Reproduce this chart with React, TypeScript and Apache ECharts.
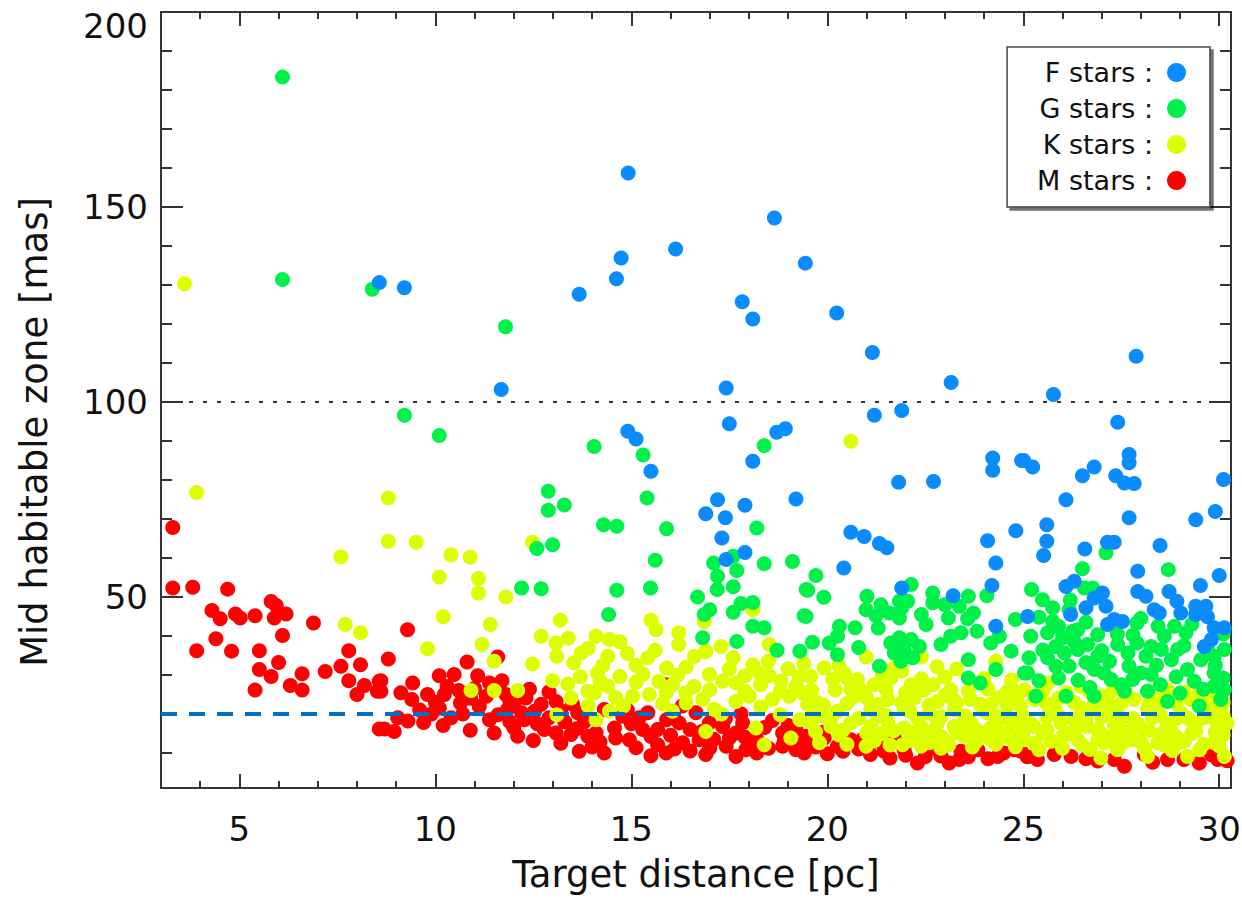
import React, { useEffect, useRef } from "react";
import * as echarts from "echarts";

// ---- axes ----
const xRange = [3, 30.3];
const yRange = [1, 200];
const xMajorTicks = [5, 10, 15, 20, 25, 30];
const xMinorTicks = [4, 6, 7, 8, 9, 11, 12, 13, 14, 16, 17, 18, 19, 21, 22, 23, 24, 26, 27, 28, 29];
const yMajorTicks = [50, 100, 150, 200];
const yMinorTicks = [10, 20, 30, 40, 60, 70, 80, 90, 110, 120, 130, 140, 160, 170, 180, 190];
const xTitle = "Target distance [pc]";
const yTitle = "Mid habitable zone [mas]";

// ---- reference lines ----
const dottedLineY = 100;
const dashedLineY = 20;
const dashedLineX = [3, 29.8];

// ---- legend ----
const seriesNames = ["F stars", "G stars", "K stars", "M stars"];
const seriesColors = ["#0A8CFF", "#00F24A", "#DCFF00", "#FF0000"];

// ---- data: [distance pc, mid habitable zone mas] ----
const fStars = [
  [8.57,130.6],[9.21,129.3],[13.67,127.6],[11.68,103.2],
  [14.92,158.7],[14.74,136.9],[14.62,131.6],[16.13,139.2],[18.65,147.2],[19.44,135.6],[17.83,125.7],[18.1,121.3],[20.24,122.8],[21.15,112.7],[17.42,103.6],[23.16,105],[25.77,101.9],[27.88,111.7],
  [17.5,94.4],[14.91,92.5],[15.12,90.5],[15.5,82.2],[18.71,92.2],[18.93,93.1],[18.1,84.8],[19.2,75.1],[17.2,74.9],[16.9,71.3],[17.4,70.3],[17.9,73.5],[17.31,65.1],[17.9,61.4],[17.42,59.6],
  [21.2,96.6],[21.9,97.8],[24.22,85.6],[24.22,82.5],[24.96,85],[21.82,79.4],[22.71,79.6],[20.6,66.6],[20.94,65.5],[21.33,63.7],[21.52,62.6],[20.42,57.4],[24.09,64.4],[24.3,58.7],[24.81,67],[24.2,52.9],[21.9,52.3],[23.21,50.3],[24.3,42.5],
  [27.41,94.8],[25.01,85],[25.24,83.3],[26.51,81.1],[26.81,83.3],[27.36,81.1],[27.7,86.5],[27.7,84.4],[27.58,79.2],[27.83,79.1],[30.11,80.1],[26.09,74.9],[27.7,70.3],[29.4,69.8],[29.9,71.9],[25.6,68.5],[25.6,64.3],[25.52,60.6],[26.57,62.3],[27.15,64],[27.32,64],[28.49,63.2],[27.92,56.6],[30.0,55.5],[26.09,52.7],[26.3,54],[25.11,45],[26.21,45.5],[26.6,47.2],[26.81,49.7],[27.02,51],[27.11,47.6],[27.15,42.9],[27.32,44.2],[27.53,43.7],[27.92,51.4],[28.13,50.2],[28.34,46.7],[28.47,45.9],[28.72,51.4],[28.92,48.9],[29.02,45.9],[29.52,52.9],[29.4,47.6],[29.66,47.6],[29.4,45.5],[29.7,44.9],[29.87,42.1],[30.13,42.1],[29.62,37.3],[29.8,39.1]
];

const gStars = [
  [6.1,183.3],[6.1,131.4],[8.39,128.9],[11.79,119.3],
  [9.21,96.6],[10.1,91.4],[14.05,88.6],[12.88,77.1],[12.88,72.2],[13.29,73.6],[12.59,62.4],[12.99,63.4],[12.2,52.3],[12.7,52.1],
  [15.3,86.4],[18.39,88.8],[15.4,75.4],[14.29,68.5],[14.63,68.1],[15.9,67.5],[18.2,67.7],[15.61,59.4],[18.39,58.5],[19.11,59.1],[17.1,58.7],[17.6,60.4],[17.69,56.8],[17.2,55.3],[14.63,51.7],[15.49,52.3],[17.19,51.9],[17.6,52.6],[16.69,50],[19.46,51.9],[14.42,45.5],[16.86,45.5],[17.0,46.7],[17.6,46.1],[17.8,48.3],[18.1,48.6],[19.41,45.2],[18.1,42.5],[18.39,42.1],[16.82,39.5],[17.69,38.6],[18.72,36.3],[19.3,36.1],
  [19.71,55.5],[19.5,51.7],[19.91,49.9],[19.46,45],[22.14,53.2],[21.01,50.2],[21.37,48],[20.99,46.7],[21.24,45.2],[21.58,45.9],[21.84,44.6],[21.84,48.9],[22.05,48.9],[21.9,47.2],[22.69,51],[22.69,48.5],[22.52,42.9],[23.6,50.2],[23.37,47.6],[23.73,45.9],[23.58,44.4],[23.09,44.6],[24.07,50.3],[20.31,42.5],[20.71,42.1],[20.26,39.9],[20.05,38.2],[19.62,38.4],[20.26,35.2],[21.62,38.2],[21.84,39.5],[22.14,39.1],[22.35,37.3],[21.71,35.6],[21.96,36.5],[21.88,33.5],[22.18,34.4],[21.33,32.2],[23.15,39.9],[23.41,40.8],[23.82,41.2],[24.17,38.2],[24.39,39.9],[24.69,36.1],[23.6,33.9],[24.3,31.4],[23.6,29.2],[23.9,27.9],[25.03,30.5],
  [26.51,57.2],[28.7,57],[27.11,61.3],[25.21,51.9],[25.49,49.3],[25.75,47.2],[26.17,46.7],[26.56,52.3],[26.77,52.3],[25.75,43.7],[25.19,39.9],[25.62,40.8],[25.83,37.3],[25.15,34.4],[25.11,30.5],[25.62,34.4],[25.83,32.2],[25.32,24.5],[26.0,39.5],[26.05,35.6],[26.26,41.2],[26.17,32.2],[26.09,24.5],[26.39,41.6],[26.9,40.3],[26.9,34.8],[26.81,31.4],[27.06,30.5],[26.81,24.5],[27.24,28.8],[27.41,37.8],[27.67,35.6],[27.9,38.2],[27.9,43.3],[27.7,32.2],[27.79,28.8],[27.58,25.8],[28.13,34.8],[28.26,37.3],[28.26,30.1],[28.44,42.5],[28.17,25.8],[28.52,36.5],[28.78,33.9],[28.86,42.5],[29.15,40.8],[28.94,36.5],[28.68,23.2],[29.19,31.4],[29.36,28.4],[29.53,33.9],[29.49,22],[29.87,34.8],[30.13,36.5],[29.87,30.5],[30.13,26.2],[29.87,27.1],[30.04,23.7],[26.64,37.8],[26.39,36.5],
  [25.4,44.8],[25.5,36.4],[25.4,28.5],[25.9,42.4],[25.9,29.2],[26.3,38.5],[26.4,28.6],[26.6,43.5],[26.6,33.2],[26.7,26.8],[27.0,36.2],[27.2,33.5],[27.4,40.5],[27.5,27.5],[27.8,40.2],[28.0,30.5],[28.4,32.5],[28.5,27.5],[28.6,40.0],[28.9,29.5],[29.1,37.5],[29.3,43.0],[29.6,26.3],[29.7,36.5],[29.9,32.5],[30.1,29.2],[30.1,40.5],[28.0,44.5],[26.2,49.2],[29.0,25.3],
  [22.4,45.5],[21.3,42.0],[22.9,37.8],[24.8,44.2],[23.0,48.0],[20.8,37.0]
];

const kStars = [
  [3.6,130.3],[3.91,76.8],[7.59,60.3],[7.7,42.9],[8.09,40.8],[20.6,89.9],
  [8.8,75.4],[8.8,64.3],[9.51,64],[12.48,64],[10.4,60.8],[10.89,60.2],[10.1,55.1],[11.1,54.7],[11.1,51],[11.8,50],[10.2,44.9],[11.4,42.9],[13.19,44],[12.7,39.9],[13.08,38.2],[13.39,39.4],[9.8,36.7],[11.19,37.8],[11.5,33.5],[12.48,32.8],[13.1,34.8],[13.53,33.1],[13.72,35.6],[12.99,28.5],[13.38,27.7],[10.91,26],[11.5,26],[12.1,26],[13.46,24.1],[13.1,19.8],[13.89,25.8],
  [15.5,44],[15.63,41.6],[16.21,40.8],[16.21,37.8],[14.1,39.9],[14.44,39.1],[14.71,38.5],[15.61,36.3],[15.42,34.4],[15.12,32.5],[14.4,34.8],[14.27,32.4],[14.14,30.5],[14.71,29.6],[15.12,28.1],[14.4,27.1],[14.06,25.4],[16.18,29.9],[16.05,27.5],[16.61,34.8],[17.29,37.3],[17.6,34.4],[16.99,30.1],[17.33,28.4],[17.67,27.9],[18.1,32.6],[18.27,30.5],[18.52,29.8],[18.82,28.4],[19.29,29.6],[18.52,37.8],[18.1,46.7],[16.86,43.7],[16.39,25.4],[16.82,23.7],[15.03,24.5],[15.46,25],[15.89,25.4],[17.67,23.2],[18.01,24.5],[18.6,23.7],[19.03,24.5],[19.37,25.4],[18.18,16.4],[16.9,15.5],[18.39,12.1],[19.07,13.8],[14.1,18.5],[14.44,20.7],[16.05,20.7],[17.12,21.1],
  [13.7,29.5],[13.9,22.0],[14.6,24.2],[14.9,35.5],[15.3,30.2],[15.7,28.3],[15.9,31.8],[15.8,22.6],[16.4,32.0],[16.6,27.0],[16.9,36.0],[17.0,26.2],[17.5,31.5],[17.9,25.8],[17.9,29.8],[18.3,27.5],[18.5,33.5],[18.8,25.9],[19.0,31.6],[19.2,27.2],[19.4,33.0],[19.5,22.5],[13.9,36.8],[14.2,28.4],[16.4,22.8],[18.3,21.8],[17.3,20.0],[18.8,19.8],[19.3,18.5],[14.8,22.0],
  [20.99,34.6],[22.4,34.6],[24.3,33.5],[19.58,29.6],[19.92,31.8],[20.14,28.8],[20.43,30.5],[20.77,28.8],[21.2,27.5],[21.62,29.2],[22.14,27.5],[22.47,26.2],[23.15,26.2],[24.52,24.5],[19.75,22.8],[20.69,24.5],[21.54,23.7],[22.22,24.1],[22.81,23.2],[23.66,23.7],[24.17,22.4],[24.85,23.2],[19.58,17.7],[20.09,16.8],[20.6,17.7],[21.11,16.8],[21.54,18.1],[21.96,16.4],[22.39,16.8],[22.81,17.7],[23.24,16.8],[23.66,17.7],[24.17,16.4],[24.69,17.7],[22.39,13.8],[22.98,13.4],[23.49,14.3],[24.17,13.4],[24.69,14.3],[20.99,11.7],[21.92,12.1],[22.39,11.7],[19.67,21.1],[20.26,20.7],[21.11,21.1],[21.96,21.5],[23.24,21.1],[24.09,20.3],
  [25.03,26.2],[25.62,27.9],[26.47,27.1],[27.15,23.7],[27.83,23.7],[28.68,26.2],[29.28,23.7],[24.94,22],[25.79,21.1],[26.47,21.5],[27.32,20.7],[28.17,21.1],[29.02,20.3],[29.96,21.1],[25.28,16.8],[25.96,17.7],[26.64,16.8],[27.32,17.3],[28.0,16.4],[28.68,17.3],[29.36,16.8],[30.04,16.8],[25.03,13.4],[25.71,13],[26.39,13.4],[27.07,12.6],[27.75,13.4],[28.43,12.6],[29.11,13],[29.87,12.6],[26.98,8.7],[28.17,9.1],[29.19,9.1],[30.13,9.1],
  [22.6,20.2],[23.0,24.8],[23.5,19.5],[23.9,15.3],[24.4,19.0],[24.6,25.8],[25.0,19.4],[25.3,23.6],[25.5,15.2],[25.9,19.6],[26.1,25.4],[26.2,15.0],[26.6,19.2],[26.9,22.1],[27.0,14.8],[27.5,19.0],[27.6,26.0],[27.7,15.0],[28.3,19.0],[28.4,23.5],[28.5,14.8],[28.9,18.8],[29.1,25.6],[29.3,15.0],[29.6,19.0],[29.7,24.5],[30.1,14.6],[30.1,19.5],[22.9,11.2],[23.7,11.5],[24.8,11.6],[25.4,10.8],[26.0,11.2],[26.7,10.9],[27.4,10.8],[28.1,11.0],[28.8,10.6],[29.5,10.8],[21.4,14.9],[20.3,14.6],[19.9,19.4],[21.3,19.4],[22.0,25.5],[20.6,26.4],[19.6,26.0],
  [19.8,12.6],[20.5,12.2],[21.2,13.1],[21.6,12.0],[22.1,13.2],[22.6,12.6],[23.1,12.0],[23.8,12.9],[24.3,12.2],[24.9,13.1],[25.3,12.4],[25.9,12.9],[26.5,12.1],[26.9,13.3],[27.5,12.2],[28.0,12.8],[28.6,12.0],[29.0,12.7],[29.6,12.2],[30.0,11.8],
  [19.7,15.4],[20.4,15.8],[21.0,15.1],[21.7,15.7],[22.2,15.2],[22.7,15.6],[23.3,15.1],[23.8,16.0],[24.4,15.3],[25.0,15.7],[25.6,15.9],[26.3,15.6],[26.9,16.0],[27.6,15.5],[28.2,15.8],[28.8,15.2],[29.4,15.6],[29.9,15.3],
  [20.1,19.0],[20.8,18.8],[21.5,19.6],[22.3,18.9],[22.9,19.3],[23.6,18.7],[24.3,19.4],[24.9,18.9],[25.6,19.2],[26.3,18.6],[27.0,19.3],[27.8,18.8],[28.5,19.5],[29.2,18.9],[29.9,18.5],
  [19.9,22.3],[20.5,22.7],[21.3,22.4],[21.9,22.9],[22.6,22.3],[23.3,22.8],[23.9,22.5],[24.6,22.0],[25.6,22.6],[26.3,22.9],[26.8,22.4],[27.5,22.7],[28.2,22.3],[28.9,22.8],[29.6,22.4],[30.1,22.9],
  [20.2,26.1],[20.9,25.8],[21.5,26.2],[22.3,25.6],[23.6,25.9],[24.1,26.3],[24.8,25.7],[25.5,25.8],[26.7,25.6],[27.3,26.3],[28.2,25.9],[29.5,25.8],[30.0,25.2],
  [20.5,29.2],[21.4,29.6],[22.4,29.0],[23.0,29.4],[24.0,29.1],[24.7,28.7],[20.3,32.3],[21.7,31.8],[22.8,32.1],[23.3,31.5],
  [22.9,14.2],[23.5,17.2],[24.0,20.8],[24.6,14.0],[25.2,17.4],[25.8,21.0],[26.0,14.2],[26.6,17.4],[27.2,21.0],[27.3,14.2],[27.9,17.6],[28.4,20.8],[28.9,14.2],[29.4,17.4],[29.8,20.8],[30.2,17.6],[23.2,23.8],[24.4,24.2],[25.9,24.0],[27.0,24.6],[28.6,24.0],[29.8,24.2],[22.1,20.7],[21.0,24.2],[22.7,27.5],[21.9,31.0]
];

const mStars = [
  [3.3,67.8],[3.3,52.3],[3.81,52.5],[4.7,52],[4.3,46.5],[4.51,44.4],[4.9,45.6],[5.02,44.6],[5.4,45.2],[5.81,48.8],[5.94,47.8],[5.89,44.6],[6.19,45.6],[6.1,40.1],[6.89,43.3],[3.91,36.2],[4.4,39.3],[4.8,36.1],[5.51,36.2],[5.51,31.4],[5.81,29.6],[6.0,33.2],[5.4,26.1],[6.3,27.3],[6.6,30.3],[6.6,26.1],[7.19,30.9],[7.59,32.2],[7.79,36.2],[7.79,28.5],[8.09,32.6],[8.0,25],[8.19,27.3],[8.57,28.4],[8.52,25.8],[8.57,16.1],
  [9.29,41.6],[8.8,34.1],[10.81,33.3],[11.59,34.6],[8.61,28.5],[8.61,25.8],[9.12,25.4],[9.42,27.9],[9.4,23.7],[9.8,25],[10.1,29.8],[10.48,30.1],[10.23,25],[10.64,22.8],[11.08,29.8],[11.38,27.9],[11.12,21.9],[11.8,25],[12.31,24.1],[11.38,18.5],[11.5,15.1],[8.7,16.1],[8.95,15.5],[9.04,19],[9.7,17.8],[10.4,19],[10.89,15.8],[12.1,14.3],[12.27,18.5],[12.53,20.7],[12.78,16],[13.08,15.1],[13.08,23.2],[13.46,14.7],[13.67,10.4],[13.89,14.3],[13.63,20.3],[11.84,21.1],
  [12.0,22.5],[12.9,19.0],[11.6,19.8],[10.9,24.0],[12.6,17.5],[13.3,18.0],[10.1,21.5],[9.6,21.0],
  [14.31,21.1],[14.1,15.1],[14.31,10],[14.57,16.4],[14.95,13.4],[15.12,11.3],[15.42,20.3],[15.67,16],[15.67,12.1],[15.89,27.5],[16.22,17.7],[16.31,12.6],[16.65,20.3],[16.73,13.4],[17.33,16.8],[17.42,11.7],[17.67,9.1],[17.67,15.1],[17.92,10.8],[18.86,11.7],[19.2,10.8],[19.46,14.3],[14.78,19.4],[15.29,16],[16.99,17.7],[17.84,17.7],[18.86,15.1],[15.89,10],
  [16.0,14.5],[16.5,16.0],[17.1,13.5],[18.2,13.5],[18.4,16.5],[17.8,20.0],[15.0,17.5],[16.3,22.0],[18.0,12.0],[19.0,17.0],
  [10.0,23.0],[10.3,27.0],[10.6,26.0],[10.7,20.0],[11.0,26.5],[11.3,24.5],[11.7,28.5],[11.9,23.3],[12.2,20.3],[12.4,26.3],[12.7,22.5],[12.9,25.6],[13.2,20.8],[13.5,22.5],[13.8,18.0],[12.0,16.5],[12.5,13.2],[13.2,12.5],[11.9,18.0],[13.6,16.2],[14.2,12.8],[14.6,13.8],[14.9,21.0],[15.2,19.0],[15.5,14.2],[15.9,18.5],[16.1,11.0],[16.5,10.5],[16.8,15.5],[17.0,11.2],[17.4,18.8],[17.5,13.8],[17.9,14.0],[18.2,10.0],[18.5,11.2],[18.6,18.3],[18.9,13.0],[19.2,16.2],[19.3,12.2],[19.7,11.5],[20.0,9.8],[20.4,10.4],[20.8,11.0],[21.1,9.6],[21.6,8.7],[22.0,9.4],[22.5,9.0],[22.9,9.2],[23.6,9.0],[24.1,8.5],[24.5,10.0],[25.1,9.0],[26.6,8.5],[26.9,7.9],[28.3,7.6],[29.1,8.3],[29.8,9.5],[30.2,8.0],[19.9,15.3],[20.9,13.5],[22.6,11.8],[10.2,17.0],[9.3,18.2],[9.9,20.0],[15.5,9.3],[14.0,11.5],[16.9,9.6],
  [19.5,13.4],[19.92,13.8],[20.26,11.7],[20.6,13.4],[21.28,13],[21.71,13.8],[21.45,10.4],[21.96,10.8],[22.3,7.4],[22.81,10.8],[23.11,7.4],[23.41,10.4],[23.84,10.8],[24.35,9.1],[24.77,10.8],[23.37,8.3],[19.41,10],
  [24.94,10.4],[25.36,8.3],[25.79,9.6],[26.22,9.1],[27.58,6.6],[27.32,8.3],[28.09,9.6],[28.68,8.3],[29.49,7.4],[29.96,8.3]
];

const FONT = "DejaVu Sans";
const AXIS_COLOR = "#333";

export default function App() {
  const ref = useRef<HTMLDivElement>(null);

  useEffect(() => {
    if (!ref.current) return;
    const chart = echarts.init(ref.current, undefined, { renderer: "svg" });

    const baseX = {
      type: "value",
      min: xRange[0],
      max: xRange[1],
      splitLine: { show: false },
      axisLine: { show: false, lineStyle: { color: AXIS_COLOR, width: 2 } },
      axisLabel: { show: false },
    };
    const baseY = {
      type: "value",
      min: yRange[0],
      max: yRange[1],
      splitLine: { show: false },
      axisLine: { show: false, lineStyle: { color: AXIS_COLOR, width: 2 } },
      axisLabel: { show: false },
    };
    const tick = (values: number[], length: number) => ({
      show: true,
      inside: true,
      length,
      customValues: values,
      lineStyle: { color: AXIS_COLOR, width: 2 },
    });

    const data = [fStars, gStars, kStars, mStars];
    const scatterSeries = [3, 2, 1, 0].map((i) => ({
      name: seriesNames[i],
      type: "scatter",
      xAxisIndex: 0,
      yAxisIndex: 0,
      symbol: "circle",
      symbolSize: 15,
      itemStyle: { color: seriesColors[i], opacity: 1 },
      data: data[i],
      z: 2,
    }));

    const yTopTick = yMajorTicks[yMajorTicks.length - 1];

    chart.setOption({
      animation: false,
      backgroundColor: "#ffffff",
      grid: {
        left: 161,
        right: 11,
        top: 12,
        bottom: 112,
        containLabel: false,
        outerBoundsMode: "none",
      },
      xAxis: [
        {
          ...baseX,
          position: "bottom",
          axisLine: { show: true, onZero: false, lineStyle: { color: AXIS_COLOR, width: 2 } },
          axisTick: tick(xMajorTicks, 14),
          axisLabel: {
            show: true,
            customValues: xMajorTicks,
            fontSize: 34,
            fontFamily: FONT,
            color: "#111",
            margin: 24,
          },
          name: xTitle,
          nameLocation: "middle",
          nameGap: 68,
          nameTextStyle: { fontSize: 37, fontFamily: FONT, color: "#111" },
        },
        { ...baseX, position: "bottom", axisTick: tick(xMinorTicks, 7) },
        {
          ...baseX,
          position: "top",
          axisLine: { show: true, onZero: false, lineStyle: { color: AXIS_COLOR, width: 2 } },
          axisTick: tick(xMajorTicks, 14),
        },
        { ...baseX, position: "top", axisTick: tick(xMinorTicks, 7) },
      ],
      yAxis: [
        {
          ...baseY,
          position: "left",
          axisLine: { show: true, onZero: false, lineStyle: { color: AXIS_COLOR, width: 2 } },
          axisTick: tick(yMajorTicks, 22),
          axisLabel: {
            show: true,
            customValues: yMajorTicks,
            fontSize: 34,
            fontFamily: FONT,
            color: "#111",
            margin: 13,
            formatter: (v: number) => (v === yTopTick ? `{top|${v}}` : `${v}`),
            rich: {
              top: {
                fontSize: 34,
                fontFamily: FONT,
                color: "#111",
                padding: [27, 0, 0, 0],
              },
            },
          },
          name: yTitle,
          nameLocation: "middle",
          nameGap: 108,
          nameTextStyle: {
            fontSize: 37,
            fontFamily: FONT,
            color: "#111",
            padding: [0, 64, 0, 0],
          },
        },
        { ...baseY, position: "left", axisTick: tick(yMinorTicks, 11) },
        {
          ...baseY,
          position: "right",
          axisLine: { show: true, onZero: false, lineStyle: { color: AXIS_COLOR, width: 2 } },
          axisTick: tick(yMajorTicks, 22),
        },
        { ...baseY, position: "right", axisTick: tick(yMinorTicks, 11) },
      ],
      legend: {
        data: seriesNames,
        orient: "vertical",
        right: 32,
        top: 47,
        align: "right",
        icon: "circle",
        itemWidth: 19,
        itemHeight: 19,
        itemGap: 9,
        padding: [12, 24, 13, 30],
        backgroundColor: "#ffffff",
        borderColor: "#444",
        borderWidth: 1.5,
        borderRadius: 0,
        shadowColor: "rgba(0,0,0,0.55)",
        shadowOffsetX: 3,
        shadowOffsetY: 3,
        shadowBlur: 0,
        selectedMode: false,
        formatter: (name: string) => name + " :",
        textStyle: {
          fontSize: 27,
          fontFamily: FONT,
          color: "#111",
          padding: [0, 9, 0, 0],
        },
      },
      series: [
        ...scatterSeries,
        {
          name: "dotted",
          type: "line",
          xAxisIndex: 0,
          yAxisIndex: 0,
          symbol: "none",
          silent: true,
          z: 3,
          lineStyle: { color: "#333", width: 2, type: [4, 10] },
          data: [
            [xRange[0], dottedLineY],
            [xRange[1], dottedLineY],
          ],
        },
        {
          name: "dashed",
          type: "line",
          xAxisIndex: 0,
          yAxisIndex: 0,
          symbol: "none",
          silent: true,
          z: 3,
          lineStyle: { color: "#0070C4", width: 4, type: [16, 12] },
          data: [
            [dashedLineX[0], dashedLineY],
            [dashedLineX[1], dashedLineY],
          ],
        },
      ],
    });

    return () => chart.dispose();
  }, []);

  return (
    <div
      ref={ref}
      style={{ position: "absolute", left: 0, top: 0, width: 1242, height: 900 }}
    />
  );
}
